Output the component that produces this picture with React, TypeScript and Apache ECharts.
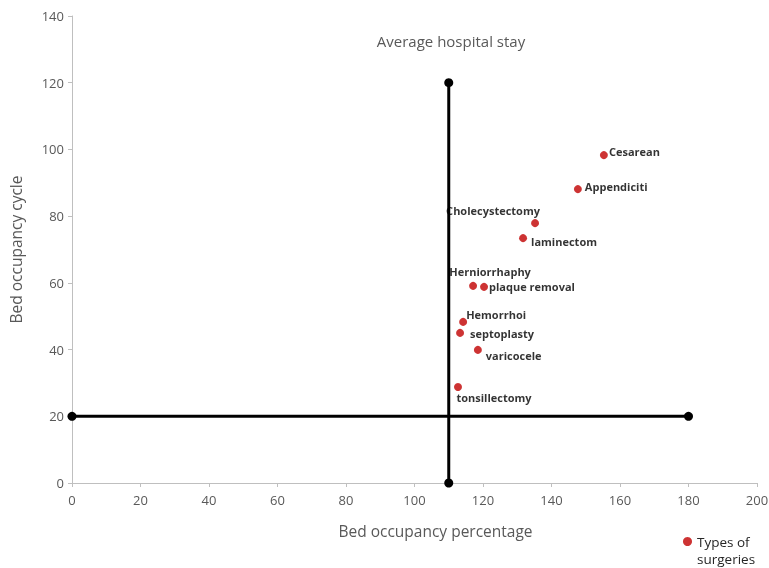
import React, { useEffect, useRef } from "react";
import * as echarts from "echarts";

const surgeryNames = [
  "Cesarean",
  "Appendiciti",
  "Cholecystectomy",
  "laminectom",
  "Herniorrhaphy",
  "plaque removal",
  "Hemorrhoi",
  "septoplasty",
  "varicocele",
  "tonsillectomy",
];
const occupancyPercentage = [155.3, 147.7, 135.2, 131.7, 117.1, 120.3, 114.2, 113.3, 118.5, 112.7];
const occupancyCycle = [98.3, 88.1, 77.9, 73.4, 59.1, 58.8, 48.3, 45.0, 39.9, 28.8];

const verticalLineX = [110, 110];
const verticalLineY = [0, 120];
const horizontalLineX = [0, 180];
const horizontalLineY = [20, 20];

// label placement (style only)
const labelPlacement: Record<string, { position: string; offset: number[] }> = {
  Cesarean: { position: "right", offset: [-4, -4] },
  Appendiciti: { position: "right", offset: [-2, -3] },
  Cholecystectomy: { position: "top", offset: [-42, 2] },
  laminectom: { position: "right", offset: [-1, 3] },
  Herniorrhaphy: { position: "top", offset: [17, 0] },
  "plaque removal": { position: "right", offset: [-4, 0] },
  Hemorrhoi: { position: "right", offset: [-6, -7] },
  septoplasty: { position: "right", offset: [1, 1] },
  varicocele: { position: "right", offset: [-1, 6] },
  tonsillectomy: { position: "bottom", offset: [36, -4] },
};

const FONT = "'Open Sans', 'Noto Sans', sans-serif";
const GRAY = "#595959";

export default function App() {
  const ref = useRef<HTMLDivElement>(null);
  useEffect(() => {
    if (!ref.current) return;
    const chart = echarts.init(ref.current, undefined, { renderer: "svg" });
    const scatterData = surgeryNames.map((n, i) => ({
      name: n,
      value: [occupancyPercentage[i], occupancyCycle[i]],
      label: {
        show: true,
        formatter: n,
        position: labelPlacement[n].position as any,
        offset: labelPlacement[n].offset,
      },
    }));
    chart.setOption({
      animation: false,
      title: {
        text: "Average hospital stay",
        left: 446,
        top: 28,
        textAlign: "center",
        textStyle: { color: GRAY, fontSize: 15, fontWeight: "normal", fontFamily: FONT },
      },
      legend: {
        data: [{ name: "Types of surgeries", icon: "circle" }],
        left: 678,
        top: 511,
        itemWidth: 9,
        itemHeight: 9,
        itemGap: 0,
        formatter: () => "\nTypes of\nsurgeries",
        textStyle: { color: "#262626", fontSize: 13.5, fontFamily: FONT, lineHeight: 17 },
      },
      grid: {
        left: 72,
        right: 12,
        top: 16,
        bottom: 85,
        containLabel: false,
        outerBoundsMode: "none",
      },
      xAxis: {
        type: "value",
        min: 0,
        max: 200,
        interval: 20,
        name: "Bed occupancy percentage",
        nameLocation: "middle",
        nameGap: 40,
        nameTextStyle: { color: GRAY, fontSize: 15.5, fontFamily: FONT, padding: [0, 0, 0, 42] },
        axisLine: { show: true, lineStyle: { color: "#bfbfbf" } },
        axisTick: { show: true, length: 4, lineStyle: { color: "#bfbfbf" } },
        axisLabel: { color: GRAY, fontSize: 13, fontFamily: FONT, margin: 10 },
        splitLine: { show: false },
      },
      yAxis: {
        type: "value",
        min: 0,
        max: 140,
        interval: 20,
        name: "Bed occupancy cycle",
        nameLocation: "middle",
        nameGap: 48,
        nameTextStyle: { color: GRAY, fontSize: 15.5, fontFamily: FONT },
        axisLine: { show: true, lineStyle: { color: "#bfbfbf" } },
        axisTick: { show: true, length: 4, lineStyle: { color: "#bfbfbf" } },
        axisLabel: { color: GRAY, fontSize: 13, fontFamily: FONT, margin: 8 },
        splitLine: { show: false },
      },
      series: [
        {
          type: "line",
          name: "vline",
          data: verticalLineX.map((x, i) => [x, verticalLineY[i]]),
          symbol: "circle",
          symbolSize: 9,
          lineStyle: { color: "#000", width: 3 },
          itemStyle: { color: "#000" },
          z: 2,
        },
        {
          type: "line",
          name: "hline",
          data: horizontalLineX.map((x, i) => [x, horizontalLineY[i]]),
          symbol: "circle",
          symbolSize: 9,
          lineStyle: { color: "#000", width: 3 },
          itemStyle: { color: "#000" },
          z: 2,
        },
        {
          type: "scatter",
          name: "Types of surgeries",
          data: scatterData,
          symbol: "circle",
          symbolSize: 8,
          itemStyle: { color: "#c00000" },
          label: {
            color: "#000",
            fontSize: 11,
            fontWeight: "bold",
            fontFamily: FONT,
          },
          z: 3,
        },
      ],
    });
    return () => chart.dispose();
  }, []);
  return (
    <div
      ref={ref}
      style={{ position: "fixed", left: 0, top: 0, width: 769, height: 568 }}
    />
  );
}
